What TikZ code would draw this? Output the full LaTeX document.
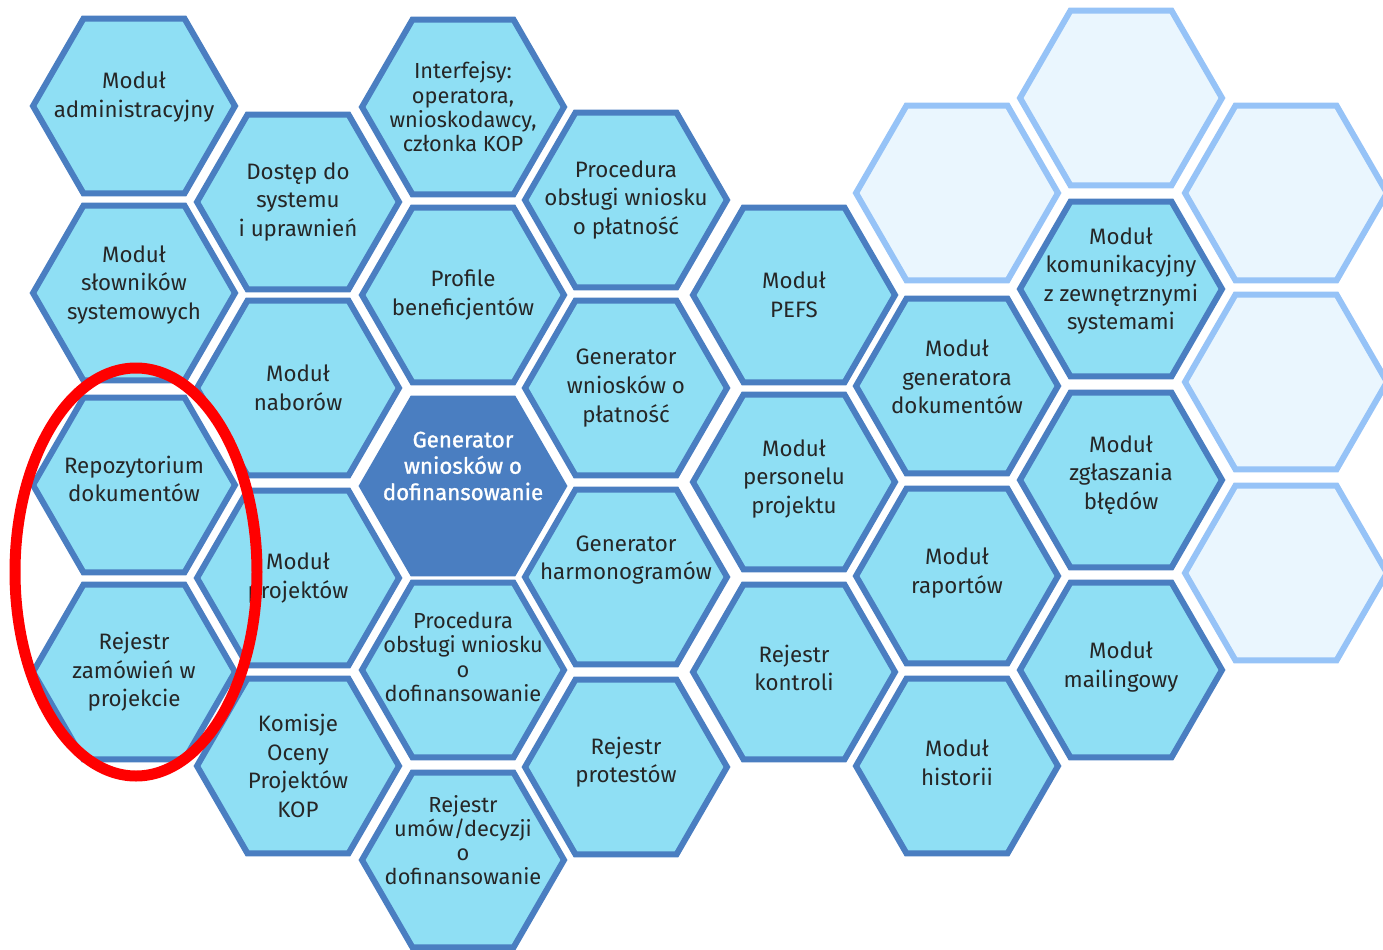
\documentclass[tikz,border=0pt]{standalone}
\usepackage{fontspec}
\setmainfont{Fira Sans}
\newfontfamily\heavyfont[FakeBold=1.2]{Fira Sans}
\usetikzlibrary{shapes.geometric}
\definecolor{cellfill}{HTML}{8FDFF4}
\definecolor{cellline}{HTML}{4A7EC1}
\definecolor{emptyfill}{HTML}{EAF6FE}
\definecolor{emptyline}{HTML}{96C3F7}
\definecolor{textgray}{HTML}{262626}
\tikzset{
  cell/.style={regular polygon, regular polygon sides=6, minimum size=2*\R,
    inner sep=0pt, outer sep=0pt, draw=cellline, fill=cellfill, line width=0.12cm},
  keycell/.style={cell, fill=cellline},
  spare/.style={cell, draw=emptyline, fill=emptyfill},
  txt/.style={align=center, text=textgray, font=\fontsize{12.7}{16.3}\selectfont},
  txtsmall/.style={txt, font=\fontsize{12.4}{13.8}\selectfont},
  txtkey/.style={txt, text=white, font=\heavyfont\fontsize{12.7}{15}\selectfont},
}
\begin{document}
\begin{tikzpicture}[x=0.02cm,y=-0.02cm]
	% Radius of the hexagons
	\newdimen\R
	\R=2.02cm
	\useasboundingbox (0,0) rectangle (1383,950);
	% empty cells on the right
	\foreach \n/\x/\y in {e1/957/193, e2/1121/98, e3/1286/193, e4/1286/382, e5/1286/573}
		\node[spare] (\n) at (\x,\y) {};
	% module cells
	\foreach \n/\x/\y/\dy/\s/\t in {
		adm/134/106/-9/txt/{Moduł\\administracyjny},
		slow/134/293/-8/txt/{Moduł\\słowników\\systemowych},
		repo/134/485/-6/txt/{Repozytorium\\dokumentów},
		zam/134/672/0/txt/{Rejestr\\zamówień w\\projekcie},
		dost/298/202/0/txt/{Dostęp do\\systemu\\i uprawnień},
		nab/298/388/0/txt/{Moduł\\naborów},
		proj/298/578/0/txt/{Moduł\\projektów},
		kom/298/766/0/txt/{Komisje\\Oceny\\Projektów\\KOP},
		int/463/107/0/txtsmall/{Interfejsy:\\operatora,\\wnioskodawcy,\\członka KOP},
		prof/463/295/0/txt/{Profile\\beneficjentów},
		procdof/463/670/-13/txtsmall/{Procedura\\obsługi wniosku\\o\\dofinansowanie},
		umow/463/860/-20/txtsmall/{Rejestr\\umów/decyzji\\o\\dofinansowanie},
		procpl/626/200/0/txt/{Procedura\\obsługi wniosku\\o płatność},
		genpl/626/388/0/txt/{Generator\\wniosków o\\płatność},
		harm/626/577/-17/txt/{Generator\\harmonogramów},
		prot/626/767/-5/txt/{Rejestr\\protestów},
		pefs/794/295/0/txt/{Moduł\\PEFS},
		pers/794/482/-3/txt/{Moduł\\personelu\\projektu},
		kontr/794/672/-4/txt/{Rejestr\\kontroli},
		gendok/957/386/-9/txt/{Moduł\\generatora\\dokumentów},
		rap/957/576/-3/txt/{Moduł\\raportów},
		hist/957/766/-3/txt/{Moduł\\historii},
		komunik/1121/289/-8/txt/{Moduł\\komunikacyjny\\z zewnętrznymi\\systemami},
		zgl/1121/480/-5/txt/{Moduł\\zgłaszania\\błędów},
		mail/1121/670/-3/txt/{Moduł\\mailingowy}} {
		\node[cell] (\n) at (\x,\y) {};
		\node[\s] (\n-text) at (\x,{\y+\dy}) {\t};
	}
	% central cell
	\node[keycell] (gen) at (463,486) {};
	\node[txtkey] (gen-text) at (463,466) {Generator\\wniosków o\\dofinansowanie};
	% highlight
	\draw[red, line width=0.22cm] (136,572) ellipse [x radius=121, y radius=204];
\end{tikzpicture}
\end{document}
